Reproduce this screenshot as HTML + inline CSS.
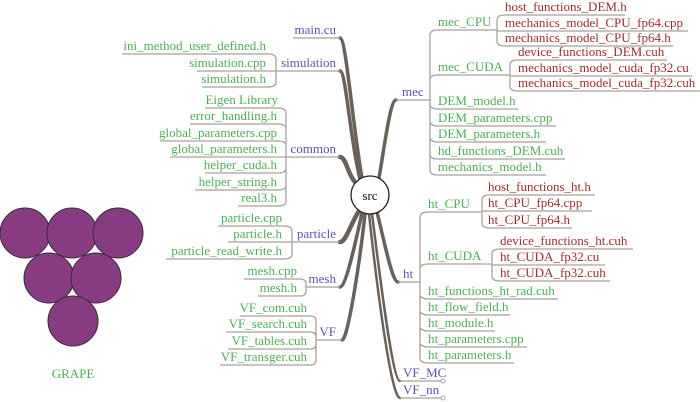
<!DOCTYPE html>
<html><head><meta charset="utf-8"><style>
html,body{margin:0;padding:0;background:#fff;}
svg{display:block;}
text{font-family:"Liberation Serif",serif;font-size:13px;}
.b{fill:#5558a6}.g{fill:#4cae55}.r{fill:#9a2e2a}
.l{fill:none;stroke:#a9a19b;stroke-width:1.3}
.t{fill:none;stroke:#6a615b;stroke-linecap:round}
</style></head><body>
<svg width="700" height="402" viewBox="0 0 700 402">
<g class="t">
<path d="M340,38 C346,38 352,120 362,178" stroke-width="3.5"/>
<path d="M340,71 C346,71 350,140 360,179" stroke-width="3.5"/>
<path d="M340,157 C346,157 348,175 355,182" stroke-width="4.5"/>
<path d="M340,242 C346,242 350,225 359,211" stroke-width="4.5"/>
<path d="M340,287 C346,287 356,240 362,213" stroke-width="3.5"/>
<path d="M342,340 C348,340 360,260 365,214" stroke-width="3.5"/>
<path d="M396,100 C390,100 384,150 379,178" stroke-width="3.5"/>
<path d="M398,282 C392,282 384,240 377,212" stroke-width="3.5"/>
<path d="M400,381 C392,381 378,260 372,214" stroke-width="2.5"/>
<path d="M400,398 C390,398 374,260 369,214" stroke-width="2.5"/>
</g>
<circle cx="370" cy="195" r="19" fill="#fff" stroke="#222" stroke-width="1.3"/>
<text x="370" y="200" text-anchor="middle" fill="#111">src</text>

<path class="l" d="M293,38H340"/>
<text class="b" x="336" y="34" text-anchor="end">main.cu</text>

<path class="l" d="M122,54H268Q276,54 276,59V82Q276,87 268,87H202 M197,71H268Q276,71 276,71H340"/>
<text class="g" x="266" y="50" text-anchor="end">ini_method_user_defined.h</text>
<text class="g" x="266" y="67" text-anchor="end">simulation.cpp</text>
<text class="g" x="266" y="83" text-anchor="end">simulation.h</text>
<text class="b" x="336" y="67" text-anchor="end">simulation</text>

<path class="l" d="M205,108H278Q286,108 286,113V201Q286,206 278,206H238 M190,124H278Q286,124 286,129 M160,141H278Q286,141 286,146 M170,157H340 M205,173H278Q286,173 286,168 M195,190H278Q286,190 286,185"/>
<text class="g" x="278" y="104" text-anchor="end">Eigen Library</text>
<text class="g" x="277" y="120" text-anchor="end">error_handling.h</text>
<text class="g" x="277" y="137" text-anchor="end">global_parameters.cpp</text>
<text class="g" x="277" y="153" text-anchor="end">global_parameters.h</text>
<text class="g" x="277" y="169" text-anchor="end">helper_cuda.h</text>
<text class="g" x="277" y="186" text-anchor="end">helper_string.h</text>
<text class="g" x="277" y="202" text-anchor="end">real3.h</text>
<text class="b" x="336" y="153" text-anchor="end">common</text>

<path class="l" d="M218,226H284Q292,226 292,231V254Q292,259 284,259H166 M228,242H340"/>
<text class="g" x="282" y="222" text-anchor="end">particle.cpp</text>
<text class="g" x="282" y="238" text-anchor="end">particle.h</text>
<text class="g" x="282" y="255" text-anchor="end">particle_read_write.h</text>
<text class="b" x="336" y="238" text-anchor="end">particle</text>

<path class="l" d="M244,279H300Q306,279 306,284V291Q306,296 300,296H258 M306,287H340"/>
<text class="g" x="297" y="275" text-anchor="end">mesh.cpp</text>
<text class="g" x="297" y="292" text-anchor="end">mesh.h</text>
<text class="b" x="336" y="283" text-anchor="end">mesh</text>

<path class="l" d="M240,316H310Q316,316 316,321V360Q316,365 310,365H220 M226,332H310Q316,332 316,337 M228,349H310Q316,349 316,344 M316,340H342"/>
<text class="g" x="307" y="312" text-anchor="end">VF_com.cuh</text>
<text class="g" x="307" y="328" text-anchor="end">VF_search.cuh</text>
<text class="g" x="307" y="345" text-anchor="end">VF_tables.cuh</text>
<text class="g" x="307" y="361" text-anchor="end">VF_transger.cuh</text>
<text class="b" x="336" y="336" text-anchor="end">VF</text>

<path class="l" d="M396,100H430 M430,35V170Q430,175 438,175H546 M430,35Q430,30 438,30H495 M430,80Q430,75 438,75H508 M430,104Q430,109 438,109H518 M430,121Q430,126 438,126H556 M430,137Q430,142 438,142H546 M430,154Q430,159 438,159H565"/>
<text class="b" x="402" y="96">mec</text>
<text class="g" x="438" y="26">mec_CPU</text>
<text class="g" x="438" y="71">mec_CUDA</text>
<text class="g" x="438" y="105">DEM_model.h</text>
<text class="g" x="438" y="122">DEM_parameters.cpp</text>
<text class="g" x="438" y="138">DEM_parameters.h</text>
<text class="g" x="438" y="155">hd_functions_DEM.cuh</text>
<text class="g" x="438" y="171">mechanics_model.h</text>

<path class="l" d="M495,30H497 M497,20V41Q497,46 505,46H673 M497,20Q497,15 505,15H625 M497,31H688"/>
<text class="r" x="505" y="11">host_functions_DEM.h</text>
<text class="r" x="505" y="27">mechanics_model_CPU_fp64.cpp</text>
<text class="r" x="505" y="42">mechanics_model_CPU_fp64.h</text>

<path class="l" d="M508,75H510 M510,65V86Q510,91 518,91H700 M510,65Q510,60 518,60H667 M510,76H692"/>
<text class="r" x="518" y="56">device_functions_DEM.cuh</text>
<text class="r" x="518" y="72">mechanics_model_cuda_fp32.cu</text>
<text class="r" x="518" y="87">mechanics_model_cuda_fp32.cuh</text>

<path class="l" d="M398,282H420 M420,217V358Q420,363 428,363H514 M420,217Q420,212 428,212H482 M420,269Q420,264 428,264H492 M420,294Q420,299 428,299H558 M420,310Q420,315 428,315H510 M420,326Q420,331 428,331H495 M420,342Q420,347 428,347H527"/>
<text class="b" x="403" y="278">ht</text>
<text class="g" x="428" y="208">ht_CPU</text>
<text class="g" x="428" y="260">ht_CUDA</text>
<text class="g" x="428" y="295">ht_functions_ht_rad.cuh</text>
<text class="g" x="428" y="311">ht_flow_field.h</text>
<text class="g" x="428" y="327">ht_module.h</text>
<text class="g" x="428" y="343">ht_parameters.cpp</text>
<text class="g" x="428" y="359">ht_parameters.h</text>

<path class="l" d="M482,200V223Q482,228 490,228H572 M482,200Q482,195 490,195H595 M482,211H592"/>
<text class="r" x="488" y="191">host_functions_ht.h</text>
<text class="r" x="488" y="207">ht_CPU_fp64.cpp</text>
<text class="r" x="488" y="224">ht_CPU_fp64.h</text>

<path class="l" d="M492,254V276Q492,281 500,281H610 M492,254Q492,249 500,249H633 M492,265H605"/>
<text class="r" x="500" y="245">device_functions_ht.cuh</text>
<text class="r" x="500" y="261">ht_CUDA_fp32.cu</text>
<text class="r" x="500" y="277">ht_CUDA_fp32.cuh</text>

<path class="l" d="M400,381H441 M400,398H441"/>
<circle cx="443" cy="381" r="2" fill="#fff" stroke="#a9a19b"/>
<circle cx="443" cy="398" r="2" fill="#fff" stroke="#a9a19b"/>
<text class="b" x="403" y="377">VF_MC</text>
<text class="b" x="403" y="394">VF_nn</text>

<g fill="#873b80" stroke="#3a2a38" stroke-width="1">
<circle cx="25" cy="233" r="25"/>
<circle cx="72" cy="233" r="25"/>
<circle cx="118" cy="233" r="25"/>
<circle cx="49" cy="278" r="25"/>
<circle cx="96" cy="278" r="25"/>
<circle cx="73" cy="321" r="25"/>
</g>
<text class="g" x="73" y="378" text-anchor="middle">GRAPE</text>
</svg>
</body></html>
